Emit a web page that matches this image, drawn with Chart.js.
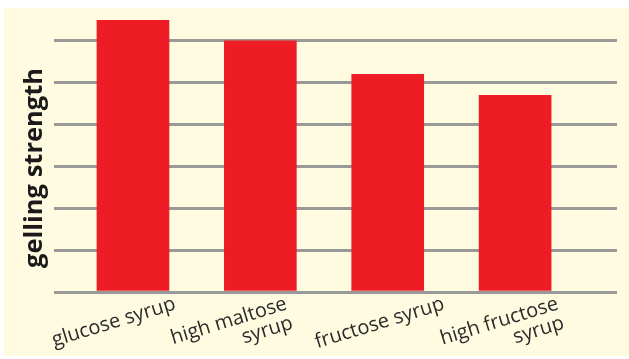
<!DOCTYPE html>
<html>
<head>
<meta charset="utf-8">
<script src="https://cdn.jsdelivr.net/npm/chart.js@4.4.1/dist/chart.umd.min.js"></script>
<style>
  html, body { margin: 0; padding: 0; background: #ffffff; }
  #wrap { width: 629px; height: 359px; position: relative; }
</style>
</head>
<body>
<div id="wrap"><canvas id="c" width="629" height="359"></canvas></div>
<script>
// Syrup types along the x axis (multi-line labels)
const categories = [
  ['glucose syrup'],
  ['high maltose', 'syrup'],
  ['fructose syrup'],
  ['high fructose', 'syrup']
];
// Relative gelling strength (one grid step = one unit)
const gellingStrength = [6.5, 6.0, 5.2, 4.7];
// Horizontal grid levels
const gridLevels = [0, 1, 2, 3, 4, 5, 6];
const axisTitle = 'gelling strength';

// Small hand nudges of each category label along the axis (category units)
const labelNudge = [0, -0.125, 0.11, 0.005];

const CREAM = '#fefbe0';
const RED = '#ee1c25';
const GRID = '#999999';

// Cream panel behind the whole plot
const panelPlugin = {
  id: 'panel',
  beforeDraw(chart) {
    const ctx = chart.ctx;
    ctx.save();
    ctx.fillStyle = '#ffffff';
    ctx.fillRect(0, 0, chart.width, chart.height);
    ctx.fillStyle = CREAM;
    ctx.fillRect(4, 8, chart.width - 4, chart.height - 11);
    ctx.restore();
  }
};

// Vertical axis title, centred between the baseline and the top grid line
const yTitlePlugin = {
  id: 'yTitle',
  afterDraw(chart) {
    const y = chart.scales.y;
    const mid = (y.getPixelForValue(gridLevels[0]) + y.getPixelForValue(gridLevels[gridLevels.length - 1])) / 2;
    const ctx = chart.ctx;
    ctx.save();
    ctx.translate(35, mid + 1.5);
    ctx.rotate(-Math.PI / 2);
    ctx.fillStyle = '#1a1a1a';
    ctx.font = 'bold 25.5px "Open Sans"';
    ctx.textAlign = 'center';
    ctx.textBaseline = 'middle';
    ctx.fillText(axisTitle, 0, 0);
    ctx.restore();
  }
};

new Chart(document.getElementById('c'), {
  type: 'bar',
  data: {
    datasets: [{
      data: gellingStrength.map((v, i) => ({ x: i, y: v })),
      backgroundColor: RED,
      borderWidth: 0,
      barThickness: 72
    }]
  },
  options: {
    responsive: false,
    animation: false,
    layout: { padding: { left: 54, right: 12, top: 20, bottom: 0 } },
    plugins: { legend: { display: false }, tooltip: { enabled: false } },
    scales: {
      x: {
        type: 'linear',
        offset: false,
        min: -0.62,
        max: 3.8,
        afterBuildTicks(s) { s.ticks = categories.map((_, i) => ({ value: i + labelNudge[i] })); },
        afterFit(s) { s.height = 67; },
        grid: { display: false },
        border: { display: false },
        ticks: {
          autoSkip: false,
          minRotation: 17,
          maxRotation: 17,
          labelOffset: 42,
          padding: -6,
          color: '#2b2b2b',
          font: { family: '"Open Sans"', size: 20, lineHeight: 1.0 },
          callback: (v, i) => categories[i]
        }
      },
      y: {
        min: 0,
        max: 6.5,
        afterBuildTicks(s) { s.ticks = gridLevels.map(v => ({ value: v })); },
        afterFit(s) { s.width = 0; },
        ticks: { display: false },
        border: { display: false },
        grid: { color: GRID, lineWidth: 3, drawTicks: false }
      }
    }
  },
  plugins: [panelPlugin, yTitlePlugin]
});
</script>
</body>
</html>
